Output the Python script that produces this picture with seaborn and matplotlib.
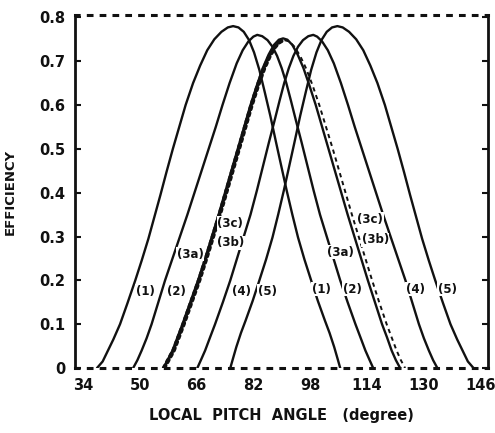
import matplotlib
matplotlib.use("Agg")
import matplotlib.pyplot as plt
import seaborn as sns
import pandas as pd
import numpy as np

# Detector efficiency vs. local pitch angle (degrees)
angle_1 = [37.9, 39.5, 41.0, 42.5, 44.4, 46.5, 48.7, 50.5, 52.4, 54.1, 55.8, 57.5,
           59.3, 61.1, 62.9, 65.0, 67.0, 69.0, 71.0, 73.0, 74.8, 76.3,
           77.8, 79.3, 80.8, 82.2, 83.7, 85.2, 86.8, 88.4, 89.9, 91.4, 93.0,
           94.6, 96.4, 98.3, 100.2, 102.2, 103.5, 104.8, 105.8, 106.5]
eff_1 = [0.0, 0.015, 0.04, 0.065, 0.1, 0.148, 0.2, 0.245, 0.295, 0.345, 0.395, 0.447,
         0.5, 0.55, 0.6, 0.65, 0.69, 0.725, 0.75, 0.767, 0.777, 0.78,
         0.777, 0.767, 0.748, 0.72, 0.68, 0.63, 0.575, 0.515, 0.46, 0.405, 0.35,
         0.298, 0.248, 0.2, 0.153, 0.108, 0.08, 0.048, 0.02, 0.0]

angle_2 = [48.1, 49.3, 50.5, 51.9, 53.3, 55.2, 57.1, 59.2, 61.3, 63.4, 65.4, 67.4,
           69.4, 71.4, 73.3, 75.3, 77.3, 79.0, 80.6, 82.0, 83.1,
           84.5, 86.0, 87.4, 88.7, 90.0, 91.3, 92.6, 94.0, 95.6, 97.3, 99.0,
           100.8, 102.7, 104.6, 106.5, 108.6, 110.8, 112.3, 113.6, 114.8, 115.8]
eff_2 = [0.0, 0.018, 0.04, 0.068, 0.1, 0.15, 0.2, 0.25, 0.3, 0.35, 0.4, 0.45,
         0.5, 0.55, 0.6, 0.65, 0.695, 0.725, 0.745, 0.756, 0.76,
         0.757, 0.748, 0.733, 0.712, 0.684, 0.65, 0.61, 0.565, 0.515, 0.46, 0.405,
         0.35, 0.3, 0.25, 0.2, 0.15, 0.1, 0.068, 0.04, 0.018, 0.0]

angle_3 = [56.6, 57.8, 59.2, 60.6, 62.0, 64.2, 66.4, 68.4, 70.3, 72.2, 74.0, 75.8,
           77.6, 79.4, 81.2, 83.0, 84.7, 86.3, 87.8, 89.2, 90.4,
           91.6, 93.0, 94.5, 96.1, 97.8, 99.6, 101.4, 103.2, 105.0, 106.8, 108.6,
           110.5, 112.4, 114.3, 116.3, 118.3, 119.7, 121.0, 122.2, 123.4]
eff_3 = [0.0, 0.018, 0.04, 0.07, 0.1, 0.15, 0.2, 0.25, 0.3, 0.35, 0.4, 0.45,
         0.5, 0.55, 0.6, 0.645, 0.685, 0.715, 0.737, 0.749, 0.752,
         0.749, 0.737, 0.715, 0.685, 0.645, 0.6, 0.55, 0.5, 0.45, 0.4, 0.35,
         0.3, 0.25, 0.2, 0.15, 0.1, 0.07, 0.04, 0.018, 0.0]

angle_3d = [56.8, 58.0, 59.5, 60.9, 62.3, 64.5, 66.7, 68.7, 70.6, 72.5, 74.3, 76.1,
            77.9, 79.7, 81.5, 83.3, 85.0, 86.6, 88.1, 89.5, 90.8,
            92.1, 93.6, 95.2, 96.9, 98.7, 100.6, 102.5, 104.4, 106.2, 108.0, 109.8,
            111.7, 113.6, 115.5, 117.5, 119.6, 121.0, 122.4, 123.6, 124.8]
eff_3d = [0.0, 0.018, 0.04, 0.07, 0.1, 0.15, 0.2, 0.25, 0.3, 0.35, 0.4, 0.45,
          0.5, 0.55, 0.6, 0.645, 0.683, 0.712, 0.733, 0.745, 0.748,
          0.745, 0.733, 0.712, 0.683, 0.645, 0.6, 0.55, 0.5, 0.45, 0.4, 0.35,
          0.3, 0.25, 0.2, 0.15, 0.1, 0.07, 0.04, 0.018, 0.0]

angle_4 = [66.2, 67.2, 68.4, 69.7, 71.2, 73.4, 75.5, 77.4, 79.3, 81.2, 83.0, 84.7,
           86.4, 88.0, 89.4, 90.7, 92.0, 93.3, 94.6, 96.0, 97.5, 98.9,
           100.0, 101.4, 103.0, 104.7, 106.7, 108.7, 110.6, 112.6, 114.6, 116.6,
           118.6, 120.7, 122.8, 124.9, 126.8, 128.7, 130.1, 131.5, 132.7, 133.9]
eff_4 = [0.0, 0.018, 0.04, 0.068, 0.1, 0.15, 0.2, 0.25, 0.3, 0.35, 0.405, 0.46,
         0.515, 0.565, 0.61, 0.65, 0.684, 0.712, 0.733, 0.748, 0.757, 0.76,
         0.756, 0.745, 0.725, 0.695, 0.65, 0.6, 0.55, 0.5, 0.45, 0.4,
         0.35, 0.3, 0.25, 0.2, 0.15, 0.1, 0.068, 0.04, 0.018, 0.0]

angle_5 = [75.5, 76.2, 77.2, 78.5, 79.8, 81.8, 83.7, 85.6, 87.4, 89.0, 90.6, 92.1,
           93.6, 95.2, 96.8, 98.3, 99.8, 101.2, 102.7, 104.2, 105.7,
           107.2, 109.0, 111.0, 113.0, 115.0, 117.0, 119.1, 120.9, 122.7, 124.5,
           126.2, 127.9, 129.6, 131.5, 133.3, 135.5, 137.6, 139.5, 141.0, 142.5, 144.1]
eff_5 = [0.0, 0.02, 0.048, 0.08, 0.108, 0.153, 0.2, 0.248, 0.298, 0.35, 0.405, 0.46,
         0.515, 0.575, 0.63, 0.68, 0.72, 0.748, 0.767, 0.777, 0.78,
         0.777, 0.767, 0.75, 0.725, 0.69, 0.65, 0.6, 0.55, 0.5, 0.447,
         0.395, 0.345, 0.295, 0.245, 0.2, 0.148, 0.1, 0.065, 0.04, 0.015, 0.0]

# curve labels: (text, angle, efficiency)
label_text = ["(1)", "(2)", "(4)", "(5)", "(3a)", "(3b)", "(3c)",
              "(1)", "(2)", "(4)", "(5)", "(3a)", "(3b)", "(3c)"]
label_x = [51.5, 60.2, 78.6, 85.9, 64.2, 75.7, 75.5,
           101.1, 109.9, 127.7, 136.7, 106.5, 116.4, 115.0]
label_y = [0.175, 0.175, 0.175, 0.175, 0.26, 0.286, 0.33,
           0.18, 0.18, 0.18, 0.18, 0.264, 0.293, 0.34]

x_ticks = [34, 50, 66, 82, 98, 114, 130, 146]
y_ticks = [0, 0.1, 0.2, 0.3, 0.4, 0.5, 0.6, 0.7, 0.8]
y_tick_labels = ["0", "0.1", "0.2", "0.3", "0.4", "0.5", "0.6", "0.7", "0.8"]

sns.set_theme(style="white")
plt.rcParams["font.family"] = ["DejaVu Sans"]
plt.rcParams["font.weight"] = "bold"

fig = plt.figure(figsize=(4.95, 4.33), dpi=100)
ax = fig.add_axes([0.1515, 0.150, 0.8345, 0.815])

ink = "#111111"
solid_curves = [(angle_1, eff_1), (angle_2, eff_2), (angle_3, eff_3),
                (angle_4, eff_4), (angle_5, eff_5)]
for xs, ys in solid_curves:
    df = pd.DataFrame({"angle": xs, "eff": ys})
    sns.lineplot(data=df, x="angle", y="eff", sort=False, ax=ax,
                 color=ink, linewidth=1.7, estimator=None)

# the (3) companion curve: heavy dots on the rising side, dashes on the falling side
df3 = pd.DataFrame({"angle": angle_3d, "eff": eff_3d})
peak = int(np.argmax(df3["eff"].values))
rise = df3.iloc[: peak + 1]
fall = df3.iloc[peak:]
sns.lineplot(data=rise, x="angle", y="eff", sort=False, ax=ax, color=ink,
             linewidth=3.2, linestyle=(0, (0.6, 0.9)), estimator=None,
             dash_capstyle="round")
sns.lineplot(data=fall, x="angle", y="eff", sort=False, ax=ax, color=ink,
             linewidth=1.4, linestyle=(0, (2.2, 2.0)), estimator=None)

for t, lx, ly in zip(label_text, label_x, label_y):
    ax.text(lx, ly, t, ha="center", va="center", fontsize=8.5,
            fontweight="bold", color=ink,
            bbox=dict(facecolor="white", edgecolor="none", pad=0.3))

ax.set_xlim(31.7, 148.2)
ax.set_ylim(0, 0.805)
ax.set_xticks(x_ticks)
ax.set_yticks(y_ticks)
ax.set_yticklabels(y_tick_labels)
ax.tick_params(axis="both", direction="in", length=4, width=1.5, colors=ink,
               labelsize=10.5, pad=7)
ax.tick_params(axis="y", right=True, left=True)
for lab in ax.get_xticklabels() + ax.get_yticklabels():
    lab.set_fontweight("bold")

for side in ["left", "right"]:
    ax.spines[side].set_color(ink)
    ax.spines[side].set_linewidth(2.0)
for side in ["top", "bottom"]:
    ax.spines[side].set_color(ink)
    ax.spines[side].set_linewidth(2.2)
    ax.spines[side].set_linestyle((0, (1.2, 3.0)))

ax.set_xlabel("LOCAL  PITCH  ANGLE   (degree)", fontsize=10.5, fontweight="bold",
              color=ink, labelpad=11)
ax.set_ylabel("EFFICIENCY", fontsize=9.5, fontweight="bold", color=ink, labelpad=16)
ax.grid(False)

fig.savefig("out.png", dpi=100, facecolor="white")
